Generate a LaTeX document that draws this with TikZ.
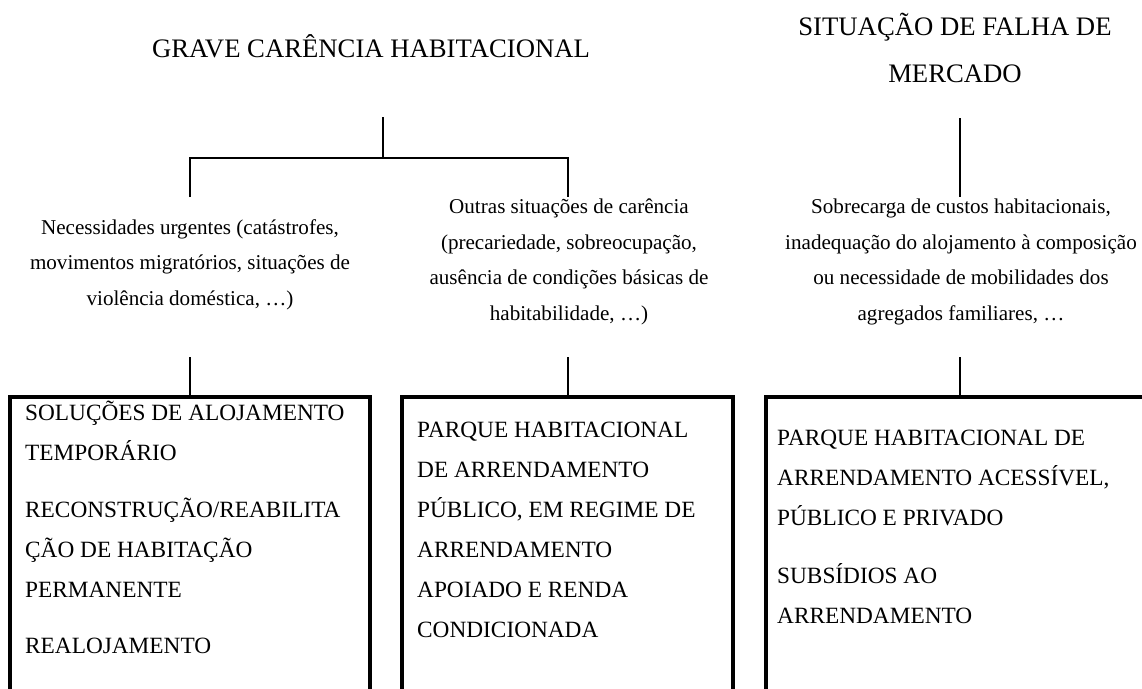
\documentclass[tikz,border=0pt]{standalone}
\usepackage{fontspec}
\setmainfont{Liberation Serif}
\begin{document}
\begin{tikzpicture}[x=1pt,y=-1pt,
  title/.style={font=\fontsize{26.7}{47}\selectfont, align=center, inner sep=0pt, anchor=base},
  desc/.style={font=\fontsize{21.1}{35.5}\selectfont, align=center, inner sep=0pt, anchor=base},
  boxtext/.style={font=\fontsize{23.3}{40}\selectfont, align=left, inner sep=0pt, anchor=base west},
  frame/.style={draw, line width=4pt, outer sep=0pt, inner sep=0pt, minimum height=360pt, anchor=north west},
  conn/.style={line width=2.4pt}]
\useasboundingbox[fill=white] (0,0) rectangle (1142,688);

% titles (anchor base = baseline of the last line)
\node[title] (t1) at (371,57) {GRAVE CARÊNCIA HABITACIONAL};
\node[title] (t2) at (955,82) {SITUAÇÃO DE FALHA DE\\MERCADO};

% descriptions
\node[desc] (d1) at (190,305) {Necessidades urgentes (catástrofes,\\movimentos migratórios, situações de\\violência doméstica, …)};
\node[desc] (d2) at (569,320) {Outras situações de carência\\(precariedade, sobreocupação,\\ausência de condições básicas de\\habitabilidade, …)};
\node[desc] (d3) at (961,320) {Sobrecarga de custos habitacionais,\\inadequação do alojamento à composição\\ou necessidade de mobilidades dos\\agregados familiares, …};

% boxes (open at the bottom / right edge of the page)
\node[frame, minimum width=360pt] (b1) at (10,397) {};
\node[frame, minimum width=331pt] (b2) at (402,397) {};
\node[frame, minimum width=420pt] (b3) at (765.5,397) {};

\node[boxtext] (x1) at (25,653) {SOLUÇÕES DE ALOJAMENTO\\TEMPORÁRIO\\[17pt]RECONSTRUÇÃO/REABILITA\\ÇÃO DE HABITAÇÃO\\PERMANENTE\\[16pt]REALOJAMENTO};
\node[boxtext] (x2) at (417,637) {PARQUE HABITACIONAL\\DE ARRENDAMENTO\\PÚBLICO, EM REGIME DE\\ARRENDAMENTO\\APOIADO E RENDA\\CONDICIONADA};
\node[boxtext] (x3) at (777,623) {PARQUE HABITACIONAL DE\\ARRENDAMENTO ACESSÍVEL,\\PÚBLICO E PRIVADO\\[18pt]SUBSÍDIOS AO\\ARRENDAMENTO};

% connector points
\coordinate (t1s) at (383,117);
\coordinate (fork) at (383,158);
\coordinate (d1n) at (190,197);
\coordinate (d2n) at (568,197);
\coordinate (t2s) at (960,118);
\coordinate (d3n) at (960,197);
\coordinate (d1s) at (190,357);
\coordinate (d2s) at (568,357);
\coordinate (d3s) at (960,357);

\draw[conn] (t1s) -- (fork);
\draw[conn] (d1n) |- (fork) -| (d2n);
\draw[conn] (t2s) -- (d3n);
\draw[conn] (d1s) -- (b1.north);
\draw[conn] (d2s) -- (d2s |- b2.north);
\draw[conn] (d3s) -- (d3s |- b3.north);
\end{tikzpicture}
\end{document}
